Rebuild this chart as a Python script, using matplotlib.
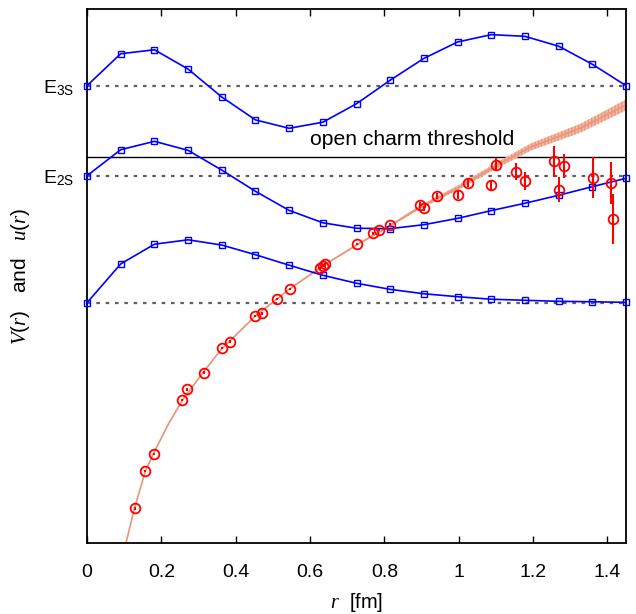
import numpy as np
import matplotlib
matplotlib.use("Agg")
import matplotlib.pyplot as plt

plt.rcParams['font.family'] = ['Liberation Sans', 'DejaVu Sans']
plt.rcParams['mathtext.fontset'] = 'custom'
plt.rcParams['mathtext.rm'] = 'Liberation Sans'
plt.rcParams['mathtext.it'] = 'Liberation Serif:italic'

# ---- data ----
r_grid = [0.0, 0.0906, 0.1813, 0.2719, 0.3625, 0.4531, 0.5438, 0.6344, 0.725,
          0.8156, 0.9063, 0.9969, 1.0875, 1.1781, 1.2688, 1.3594, 1.45]
wave_1s = [3.070, 3.255, 3.349, 3.370, 3.345, 3.299, 3.249, 3.201, 3.163,
           3.134, 3.113, 3.099, 3.087, 3.082, 3.077, 3.075, 3.072]
wave_2s = [3.675, 3.799, 3.839, 3.796, 3.702, 3.601, 3.510, 3.451, 3.425,
           3.423, 3.442, 3.472, 3.509, 3.544, 3.582, 3.623, 3.663]
wave_3s = [4.104, 4.256, 4.275, 4.183, 4.050, 3.941, 3.901, 3.930, 4.018,
           4.130, 4.234, 4.312, 4.347, 4.339, 4.292, 4.206, 4.104]

E_1S = 3.070
E_2S = 3.675
E_3S = 4.104
threshold = 3.766

pot_r = [0.128, 0.157, 0.181, 0.256, 0.270, 0.314, 0.362, 0.385, 0.452, 0.470,
         0.512, 0.545, 0.628, 0.634, 0.641, 0.725, 0.769, 0.785, 0.815, 0.895,
         0.906, 0.942, 0.998, 1.026, 1.088, 1.099, 1.154, 1.178, 1.255, 1.269,
         1.282, 1.360, 1.410, 1.414]
pot_V = [2.091, 2.270, 2.350, 2.607, 2.658, 2.737, 2.855, 2.885, 3.007, 3.020,
         3.088, 3.136, 3.234, 3.245, 3.253, 3.350, 3.401, 3.417, 3.440, 3.537,
         3.521, 3.577, 3.585, 3.642, 3.630, 3.728, 3.694, 3.649, 3.744, 3.609,
         3.721, 3.666, 3.642, 3.468]
pot_err = [0.006, 0.006, 0.006, 0.006, 0.006, 0.006, 0.006, 0.006, 0.006, 0.006,
           0.006, 0.006, 0.006, 0.006, 0.006, 0.006, 0.006, 0.006, 0.008, 0.012,
           0.012, 0.015, 0.022, 0.02, 0.024, 0.03, 0.04, 0.043, 0.073, 0.058,
           0.058, 0.099, 0.10, 0.119]

fit_r = [0.104, 0.128, 0.157, 0.181, 0.219, 0.257, 0.313, 0.362, 0.453, 0.545,
         0.634, 0.725, 0.814, 0.897, 0.997, 1.099, 1.194, 1.328, 1.452]
fit_V = [1.920, 2.093, 2.269, 2.360, 2.493, 2.607, 2.740, 2.850, 3.007, 3.136,
         3.245, 3.345, 3.436, 3.526, 3.617, 3.721, 3.812, 3.902, 4.014]
fit_hw = [0.004, 0.004, 0.003, 0.003, 0.003, 0.003, 0.003, 0.003, 0.003, 0.003,
          0.003, 0.004, 0.005, 0.008, 0.011, 0.014, 0.017, 0.021, 0.026]

xticks = [0, 0.2, 0.4, 0.6, 0.8, 1.0, 1.2, 1.4]
xticklabels = ['0', '0.2', '0.4', '0.6', '0.8', '1', '1.2', '1.4']

# ---- figure ----
fig = plt.figure(figsize=(6.36, 6.14), dpi=100)
ax = fig.add_axes([0.1368, 0.1156, 0.8475, 0.8697])
ax.set_xlim(0, 1.45)
ax.set_ylim(1.926, 4.469)

dot = (0, (1.6, 2.6))
for lvl in (E_1S, E_2S, E_3S):
    ax.axhline(lvl, color='#606060', lw=1.6, ls=dot, zorder=1)
ax.axhline(threshold, color='black', lw=1.0, zorder=1)

fr = np.array(fit_r); fv = np.array(fit_V); fh = np.array(fit_hw)
ax.fill_between(fr, fv - fh, fv + fh, facecolor='#F5BBA6', edgecolor='#E9967A',
                hatch='|||||', linewidth=0, zorder=2)
ax.plot(fr, fv, color='#E9967A', lw=1.2, zorder=2)

for w in (wave_1s, wave_2s, wave_3s):
    ax.plot(r_grid, w, color='#0000FF', lw=1.2, marker='s', ms=5, mfc='none',
            mec='#0000FF', mew=1.0, zorder=4, clip_on=False)

ax.errorbar(pot_r, pot_V, yerr=pot_err, fmt='o', ms=7, mfc='none', mec='#FF0000',
            mew=1.3, ecolor='#FF0000', elinewidth=1.5, capsize=0, zorder=5)

ax.text(0.874, threshold + 0.035, 'open charm threshold', fontsize=15.2,
        ha='center', va='bottom', zorder=6)

ax.set_xticks(xticks)
ax.set_xticklabels(xticklabels)
ax.set_yticks([E_2S, E_3S])
ax.set_yticklabels([r'E$_{\mathrm{2S}}$', r'E$_{\mathrm{3S}}$'])
ax.tick_params(axis='x', direction='in', length=5, width=1, top=True,
               labelsize=14, pad=15)
ax.tick_params(axis='y', length=0, labelsize=14, pad=9)
for s in ax.spines.values():
    s.set_linewidth(1.3)

ax.set_xlabel(r'$r$  [fm]', fontsize=14.5, labelpad=7)
ax.set_ylabel(r'$V(r)$   and   $u(r)$', fontsize=15)
ax.yaxis.set_label_coords(-0.102, 0.5)

fig.savefig('out.png', dpi=100)
